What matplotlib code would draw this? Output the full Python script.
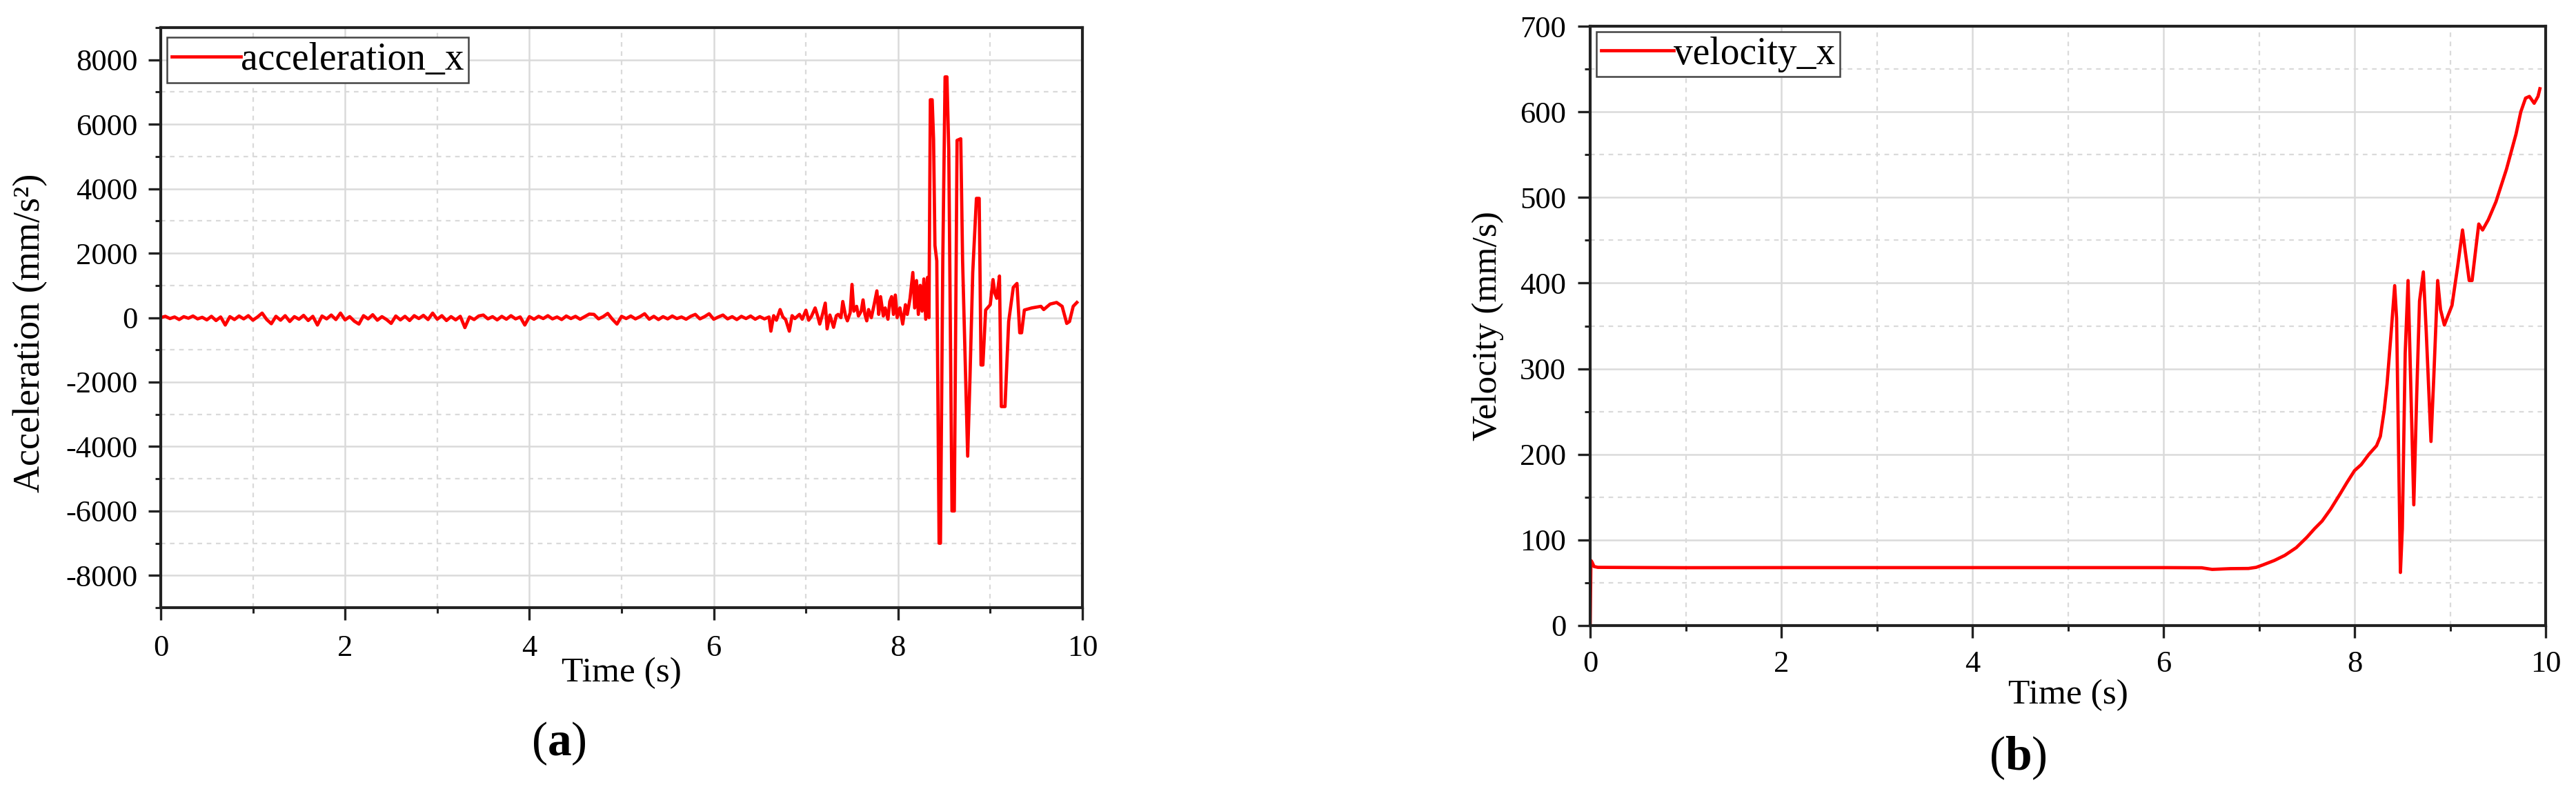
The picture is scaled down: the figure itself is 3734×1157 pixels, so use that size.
import numpy as np
import matplotlib
matplotlib.use("Agg")
import matplotlib.pyplot as plt
from matplotlib.ticker import MultipleLocator

plt.rcParams['font.family'] = ['Liberation Serif', 'DejaVu Serif']
plt.rcParams['axes.unicode_minus'] = False
plt.rcParams['mathtext.fontset'] = 'custom'
plt.rcParams['mathtext.rm'] = 'Liberation Serif'
plt.rcParams['mathtext.bf'] = 'Liberation Serif:bold'

# acceleration_x, quiet part sampled every 0.05 s from t = 0 (mm/s^2)
quiet_dt = 0.05
acc_quiet = [
    0, 40, -30, 20, -60, 30, -20, 50, -40, 10, -70, 40, -90, 20, -230, 30,
    -60, 50, -40, 60, -80, 20, 140, -60, -190, 40, -80, 60, -120, 30, -50, 70,
    -90, 40, -230, 50, -40, 80, -60, 140, -70, 30, -110, -200, 60, -40, 90, -80,
    30, -60, -180, 50, -70, 40, -90, 60, -30, 70, -60, 140, -50, 60, -90, 30,
    -70, 40, -310, 20, -60, 50, 80, -40, 30, -70, 40, -50, 60, -40, 20, -230,
    30, -50, 40, -30, 60, -40, 20, -60, 50, -30, 40, -50, 30, 110, 100, -40,
    30, 130, -50, -200, 40, -30, 50, -40, 30, 120, -50, 40, -60, 30, -40, 50,
    -30, 20, -50, 40, 100, -40, 30, 120, -50, 20, 80, -40, 30, -60, 40, -30,
    50, -50, 30, -40,
]

# acceleration_x, active part (s, mm/s^2)
acc_time = [
    6.60, 6.62, 6.65, 6.68, 6.72, 6.75, 6.78, 6.82, 6.85, 6.88, 6.93, 6.96,
    7.00, 7.03, 7.06, 7.10, 7.13, 7.15, 7.18, 7.21, 7.23, 7.26, 7.30, 7.33,
    7.35, 7.38, 7.40, 7.43, 7.45, 7.48, 7.50, 7.52, 7.55, 7.57, 7.60, 7.62,
    7.64, 7.66, 7.68, 7.71, 7.74, 7.77, 7.79, 7.81, 7.84, 7.86, 7.89, 7.91,
    7.93, 7.95, 7.97, 7.99, 8.02, 8.05, 8.08, 8.10, 8.13, 8.16, 8.18, 8.20,
    8.22, 8.24, 8.26, 8.28, 8.30, 8.32, 8.335, 8.35, 8.37, 8.385, 8.40, 8.42,
    8.445, 8.46, 8.485, 8.51, 8.53, 8.55, 8.585, 8.61, 8.64, 8.68, 8.70, 8.755,
    8.78, 8.81, 8.85, 8.88, 8.90, 8.92, 8.95, 9.00, 9.03, 9.05, 9.07, 9.10,
    9.12, 9.16, 9.20, 9.25, 9.29, 9.32, 9.34, 9.37, 9.45, 9.55, 9.58, 9.65,
    9.72, 9.78, 9.83, 9.86, 9.90, 9.94,
]
acc_value = [
    20, -420, 60, -80, 250, 20, -60, -420, 60, -30, 100, -50,
    230, -80, 40, 300, 20, -200, 100, 450, -350, 80, -300, 60,
    100, 0, 500, 50, -100, 150, 1030, 200, 350, 50, 200, 550,
    100, -100, 250, 0, 400, 830, 100, 650, 50, 300, -50, 500,
    650, 100, 700, 0, 300, -200, 400, 100, 600, 1400, 300, 1150,
    100, 1000, 200, 1200, -50, 1250, 0, 6760, 6760, 5530, 2240, 1760,
    -7000, -7000, 1760, 7470, 7470, 5180, -6000, -6000, 5500, 5550, 1760, -4300,
    -1880, 1400, 3700, 3700, -1470, -1470, 235, 400, 1180, 760, 600, 1290,
    -2760, -2760, -120, 940, 1060, -470, -470, 235, 300, 350, 250, 420,
    470, 350, -180, -120, 350, 470,
]

# velocity_x (s, mm/s)
vel_time = [
    0.0, 0.008, 0.02, 0.04, 0.08, 0.5, 1.0, 2.0, 3.0, 4.0, 5.0, 6.0, 6.4,
    6.51, 6.70, 6.89, 6.97, 7.04, 7.16, 7.27, 7.39, 7.50, 7.58, 7.66, 7.75,
    7.85, 7.92, 8.00, 8.07, 8.15, 8.23, 8.27, 8.31, 8.34, 8.38, 8.42, 8.44,
    8.48, 8.50, 8.53, 8.56, 8.58, 8.62, 8.65, 8.68, 8.72, 8.75, 8.80, 8.83,
    8.87, 8.90, 8.94, 9.02, 9.08, 9.13, 9.16, 9.20, 9.23, 9.27, 9.30, 9.34,
    9.40, 9.48, 9.59, 9.69, 9.74, 9.79, 9.83, 9.88, 9.92, 9.94,
]
vel_value = [
    0, 76, 74, 69, 68, 67.8, 67.6, 67.7, 67.7, 67.7, 67.7, 67.7, 67.5,
    65.6, 66.5, 66.7, 68, 70.8, 76, 82, 91, 103, 113, 122, 136,
    154, 167, 181, 188, 200, 210, 221, 251, 282, 338, 397, 359,
    62, 113, 318, 403, 318, 141, 267, 379, 413, 344, 215, 292,
    403, 369, 351, 374, 420, 462, 436, 403, 403, 441, 469, 462,
    474, 495, 533, 574, 600, 616, 618, 610, 618, 627,
]

acc_t = np.concatenate([np.arange(len(acc_quiet)) * quiet_dt, acc_time])
acc_v = np.concatenate([acc_quiet, acc_value])

W, H = 3734, 1157
fig = plt.figure(figsize=(W / 100, H / 100), dpi=100)


def px_axes(l, t, r, b):
    return fig.add_axes([l / W, 1 - b / H, (r - l) / W, (b - t) / H])


def style(ax, xminor, yminor, xpad, ypad):
    ax.set_xlim(0, 10)
    ax.xaxis.set_major_locator(MultipleLocator(2))
    ax.xaxis.set_minor_locator(MultipleLocator(xminor))
    ax.yaxis.set_minor_locator(MultipleLocator(yminor))
    ax.set_axisbelow(True)
    ax.grid(which='major', color='#dadada', lw=1.8, ls='-')
    ax.grid(which='minor', color='#dadada', lw=1.6, ls=(0, (3, 3)))
    for sp in ax.spines.values():
        sp.set_linewidth(3.0)
        sp.set_color('#222222')
    ax.tick_params(which='major', direction='out', length=13, width=2.4,
                   labelsize=32, color='#222222')
    ax.tick_params(which='minor', direction='out', length=6, width=2.2,
                   color='#222222')
    ax.tick_params(axis='x', which='major', pad=xpad)
    ax.tick_params(axis='y', which='major', pad=ypad)


# (a) acceleration
ax1 = px_axes(233, 40, 1569, 881)
ax1.plot(acc_t, acc_v, color='#ff0000', lw=3.4, label='acceleration_x')
ax1.set_ylim(-9000, 9000)
ax1.yaxis.set_major_locator(MultipleLocator(2000))
style(ax1, 1, 1000, 15, 11)
ax1.set_xlabel('Time (s)', fontsize=37, va='center')
ax1.xaxis.set_label_coords(0.5, -0.113)
ax1.set_ylabel('Acceleration (mm/s²)', fontsize=39, va='center')
ax1.yaxis.set_label_coords(-0.1415, 0.473)
leg1 = ax1.legend(loc='upper left', bbox_to_anchor=(0.0067, 0.983),
                  borderaxespad=0, fontsize=40, handlelength=1.8,
                  handletextpad=0.0, borderpad=0.12, fancybox=False,
                  framealpha=1)
leg1.get_frame().set_edgecolor('#444444')
leg1.get_frame().set_linewidth(1.8)

# (b) velocity
ax2 = px_axes(2305, 38, 3690, 907)
ax2.plot(vel_time, vel_value, color='#ff0000', lw=3.4, label='velocity_x')
ax2.set_ylim(0, 700)
ax2.yaxis.set_major_locator(MultipleLocator(100))
style(ax2, 1, 50, 13, 12)
ax2.set_xlabel('Time (s)', fontsize=37, va='center')
ax2.xaxis.set_label_coords(0.5, -0.116)
ax2.set_ylabel('Velocity (mm/s)', fontsize=37, va='center')
ax2.yaxis.set_label_coords(-0.107, 0.5)
leg2 = ax2.legend(loc='upper left', bbox_to_anchor=(0.0065, 0.9908),
                  borderaxespad=0, fontsize=40, handlelength=1.9,
                  handletextpad=0.0, borderpad=0.12, fancybox=False,
                  framealpha=1)
leg2.get_frame().set_edgecolor('#444444')
leg2.get_frame().set_linewidth(1.8)

fig.text(810 / W, 1 - 1078 / H, r'($\mathbf{a}$)', fontsize=50,
         ha='center', va='center')
fig.text(2925 / W, 1 - 1099 / H, r'($\mathbf{b}$)', fontsize=50,
         ha='center', va='center')

fig.savefig('out.png', dpi=100, facecolor='white')
